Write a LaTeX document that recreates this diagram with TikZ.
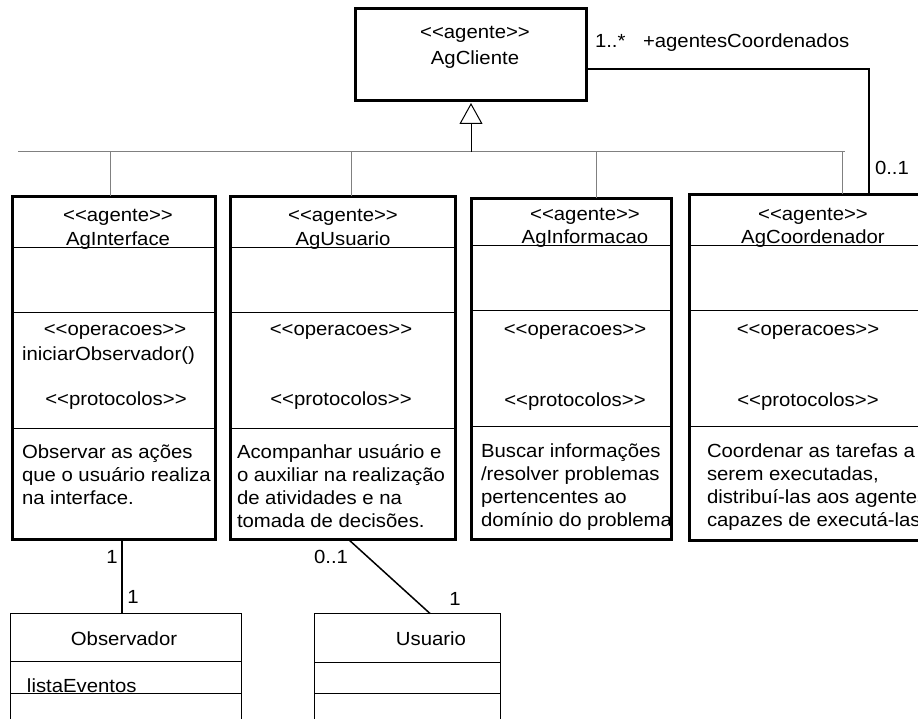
\documentclass[tikz,border=0pt]{standalone}
\usepackage{fontspec}
\setmainfont{Liberation Sans}[FakeStretch=1.07,Ligatures=TeXOff]
\usetikzlibrary{arrows.meta}
\tikzset{
    every node/.style={inner sep=0pt, outer sep=0pt},
    klass/.style={rectangle, draw, line width=3pt},
    objbox/.style={rectangle, draw, line width=1pt},
    txt/.style={anchor=base},
    desc/.style={anchor=base west, align=left},
    cmpt/.style={line width=1pt},
    gen/.style={line width=1pt, draw=gray},
    assoc/.style={line width=1.5pt}
}

\begin{document}
\begin{tikzpicture}[x=1pt, y=-1pt, font=\fontsize{19}{23.3}\selectfont]
    \clip (0,0) rectangle (918,719);

    % agent classes
    \node (cliente) [klass, minimum width=231pt, minimum height=92pt] at (471,54.5) {};
    \node (inter) [klass, minimum width=203pt, minimum height=342.5pt] at (114,367.75) {};
    \node (usu) [klass, minimum width=225pt, minimum height=342.5pt] at (343,367.75) {};
    \node (info) [klass, minimum width=200pt, minimum height=340.5pt] at (571.5,368.75) {};
    \node (coord) [klass, minimum width=248.5pt, minimum height=345.5pt] at (813.75,367.25) {};

    \node (cliente-st) [txt] at (475,39) {<<agente>>};
    \node (cliente-nm) [txt] at (475,65) {AgCliente};

    % base of a description = baseline of its last line
    \node (inter-st) [txt] at (118,222) {<<agente>>};
    \node (inter-nm) [txt] at (118,246) {AgInterface};
    \node (inter-op) [txt] at (115,335) {<<operacoes>>};
    \node (inter-fn) [anchor=base west] at (22,360) {iniciarObservador()};
    \node (inter-pr) [txt] at (116,405) {<<protocolos>>};
    \node (inter-ds) [desc] at (22,504.6) {Observar as ações\\que o usuário realiza\\na interface.};

    \node (usu-st) [txt] at (343,222) {<<agente>>};
    \node (usu-nm) [txt] at (343,246) {AgUsuario};
    \node (usu-op) [txt] at (341,335) {<<operacoes>>};
    \node (usu-pr) [txt] at (341,405) {<<protocolos>>};
    \node (usu-ds) [desc] at (237,527.9) {Acompanhar usuário e\\o auxiliar na realização\\de atividades e na\\tomada de decisões.};

    \node (info-st) [txt] at (585,221) {<<agente>>};
    \node (info-nm) [txt] at (585,244) {AgInformacao};
    \node (info-op) [txt] at (575,335) {<<operacoes>>};
    \node (info-pr) [txt] at (575,406) {<<protocolos>>};
    \node (info-ds) [desc] at (481,526.9) {Buscar informações\\/resolver problemas\\pertencentes ao\\domínio do problema};

    \node (coord-st) [txt] at (813,221) {<<agente>>};
    \node (coord-nm) [txt] at (813,244) {AgCoordenador};
    \node (coord-op) [txt] at (808,335) {<<operacoes>>};
    \node (coord-pr) [txt] at (808,406) {<<protocolos>>};
    \node (coord-ds) [desc] at (707,526.9) {Coordenar as tarefas a\\serem executadas,\\distribuí-las aos agentes\\capazes de executá-las};

    \foreach \b/\ya/\yb/\yc in {inter/248/312/428, usu/248/312/428, info/246/310/426, coord/246/310/426}{
        \draw[cmpt] (\b.west |- 0,\ya) -- (\b.east |- 0,\ya);
        \draw[cmpt] (\b.west |- 0,\yb) -- (\b.east |- 0,\yb);
        \draw[cmpt] (\b.west |- 0,\yc) -- (\b.east |- 0,\yc);
    }

    % plain classes
    \node (obs) [objbox, minimum width=230.5pt, minimum height=146.5pt] at (125.75,686.75) {};
    \node (usuario) [objbox, minimum width=185.5pt, minimum height=146.5pt] at (407.25,686.75) {};
    \node (obs-nm) [txt] at (124,645) {Observador};
    \node (obs-at) [anchor=base west] at (27,692) {listaEventos};
    \node (usuario-nm) [txt] at (431,645) {Usuario};
    \draw[cmpt] (obs.west |- 0,661) -- (obs.east |- 0,661);
    \draw[cmpt] (obs.west |- 0,693) -- (obs.east |- 0,693);
    \draw[cmpt] (usuario.west |- 0,662) -- (usuario.east |- 0,662);
    \draw[cmpt] (usuario.west |- 0,693) -- (usuario.east |- 0,693);

    % generalization
    \coordinate (bus) at (471,152);
    \coordinate (busl) at (18,152);
    \coordinate (busr) at (845,152);
    \draw[gen] (busl) -- (busr);
    \draw[gen] ([xshift=-4pt]inter.north) |- (bus);
    \draw[gen] ([xshift=8pt]usu.north) |- (bus);
    \draw[gen] ([xshift=24.5pt]info.north) |- (bus);
    \draw[gen] ([xshift=28.25pt]coord.north) |- (bus);
    \draw[line width=1pt, -{Triangle[open, length=21pt, width=23pt]}, shorten >=2.5pt] (bus) -- (cliente.south);

    % associations
    \draw[assoc] ([yshift=-14.5pt]cliente.east) -| ([xshift=55.25pt]coord.north);
    \draw[assoc] ([xshift=8pt]inter.south) -- ([xshift=-3.75pt]obs.north);
    \draw[assoc] ([xshift=5pt]usu.south) -- ([xshift=22.75pt]usuario.north);

    \node (m-cli) [anchor=base west] at (595,48) {1..*};
    \node (role) [anchor=base west] at (643,48) {+agentesCoordenados};
    \node (m-crd) [anchor=base west] at (875,175) {0..1};
    \node (m-int) [txt] at (112,563) {1};
    \node (m-obs) [txt] at (133,603) {1};
    \node (m-usu) [txt] at (331,563) {0..1};
    \node (m-usr) [txt] at (455,605) {1};
\end{tikzpicture}
\end{document}
